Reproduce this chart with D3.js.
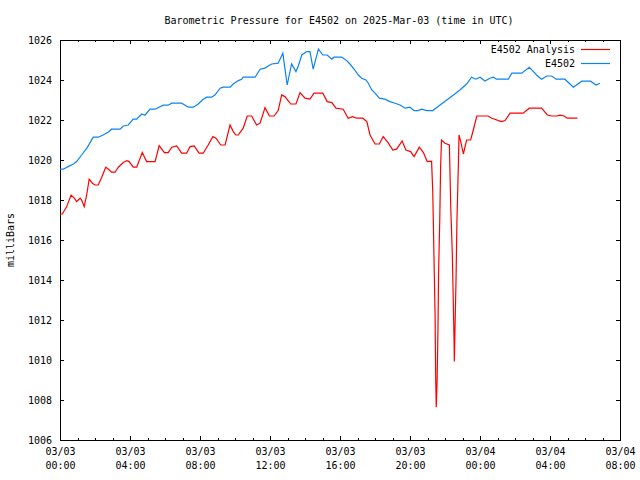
<!DOCTYPE html>
<html><head><meta charset="utf-8">
<script src="https://cdn.jsdelivr.net/npm/d3@7"></script>
<style>
body{margin:0;background:#fff}
svg text{font-family:"DejaVu Sans Mono","Liberation Mono",monospace;font-size:10px;fill:#000}
</style>
</head><body>
<svg id="chart" width="640" height="480"></svg>
<script>
const titleText = "Barometric Pressure for E4502 on 2025-Mar-03 (time in UTC)";
const yAxisLabel = "milliBars";
const seriesNames = ["E4502 Analysis", "E4502"];
const seriesColors = ["#ff0000", "#0a84f4"];

// minutes after 2025-03-03 00:00 UTC
const analysisMinutes = [0,8,23,38,49,57,69,74,83,92,100,111,120,131,143,157,166,177,189,200,217,229,237,251,263,282,297,326,340,358,371,383,400,417,434,446,460,477,491,508,524,535,551,566,583,594,603,611,628,642,657,674,686,703,718,734,748,760,771,791,809,823,840,857,871,901,916,932,946,971,988,1003,1017,1038,1052,1063,1080,1095,1108,1126,1141,1154,1173,1186,1202,1214,1232,1246,1259,1274,1278,1282,1286,1288,1290,1293,1296,1298,1302,1305,1308,1320,1335,1340,1345,1348,1351,1352,1354,1358,1361,1366,1368,1374,1383,1394,1408,1417,1429,1468,1480,1491,1503,1514,1526,1543,1588,1609,1651,1671,1686,1703,1714,1728,1739,1774];
const analysisValues = [1017.3,1017.3,1017.67,1018.25,1018.09,1017.92,1018.09,1018.0,1017.67,1018.3,1019.04,1018.84,1018.75,1018.75,1019.14,1019.64,1019.54,1019.39,1019.39,1019.64,1019.87,1019.97,1019.92,1019.64,1019.64,1020.37,1019.92,1019.92,1020.72,1020.37,1020.37,1020.64,1020.7,1020.34,1020.34,1020.67,1020.7,1020.34,1020.34,1020.75,1021.17,1021.09,1020.75,1020.75,1021.75,1021.42,1021.25,1021.25,1021.59,1022.2,1022.2,1021.75,1021.84,1022.62,1022.2,1022.2,1022.47,1023.25,1023.17,1022.8,1022.8,1023.37,1023.09,1023.04,1023.34,1023.34,1022.92,1022.87,1022.59,1022.54,1022.09,1022.17,1022.09,1022.09,1021.92,1021.25,1020.8,1020.8,1021.17,1020.84,1020.5,1020.54,1020.95,1020.5,1020.42,1020.17,1020.64,1020.37,1019.92,1019.94,1018.42,1015.34,1012.25,1009.17,1007.64,1009.0,1011.67,1014.34,1017.0,1019.67,1021.0,1020.84,1020.75,1017.5,1015.34,1013.17,1011.0,1009.92,1011.34,1014.17,1017.0,1019.84,1021.25,1020.92,1020.3,1021.0,1021.0,1021.5,1022.2,1022.2,1022.09,1022.04,1021.97,1021.92,1021.97,1022.34,1022.34,1022.59,1022.59,1022.25,1022.2,1022.2,1022.24,1022.2,1022.09,1022.09];

const obsMinutes = [0,11,28,46,57,74,92,103,114,131,148,166,177,206,217,234,251,263,280,291,309,326,354,371,383,417,429,440,457,474,491,503,520,531,549,560,583,594,611,623,628,669,686,703,714,726,748,764,771,779,786,794,809,817,829,846,857,868,886,901,916,932,939,966,983,994,1011,1023,1034,1049,1057,1069,1080,1095,1114,1131,1149,1166,1183,1200,1214,1228,1240,1257,1278,1303,1326,1349,1371,1394,1411,1426,1440,1457,1474,1486,1497,1537,1549,1583,1609,1634,1651,1669,1686,1701,1731,1760,1789,1819,1838,1851];
const obsValues = [1019.54,1019.54,1019.67,1019.8,1019.92,1020.25,1020.59,1020.87,1021.14,1021.14,1021.25,1021.4,1021.54,1021.54,1021.7,1021.75,1022.04,1022.04,1022.3,1022.24,1022.54,1022.54,1022.74,1022.74,1022.84,1022.84,1022.74,1022.64,1022.64,1022.8,1023.04,1023.14,1023.14,1023.25,1023.59,1023.64,1023.64,1023.8,1023.97,1024.04,1024.14,1024.14,1024.54,1024.59,1024.7,1024.8,1024.84,1025.34,1024.59,1023.75,1024.25,1024.8,1024.42,1024.7,1025.25,1025.42,1025.42,1024.54,1025.54,1025.25,1025.25,1025.04,1025.14,1025.14,1024.97,1024.8,1024.5,1024.25,1024.09,1024.0,1023.84,1023.5,1023.34,1023.09,1023.04,1022.92,1022.84,1022.75,1022.59,1022.64,1022.47,1022.47,1022.54,1022.47,1022.47,1022.75,1023.0,1023.25,1023.5,1023.8,1024.14,1024.04,1024.14,1023.95,1024.09,1024.14,1024.04,1024.04,1024.34,1024.34,1024.64,1024.25,1024.04,1024.2,1024.2,1024.04,1024.04,1023.64,1023.94,1023.94,1023.75,1023.84];

const yTickValues = [1006,1008,1010,1012,1014,1016,1018,1020,1022,1024,1026];
const xTickDates = ["03/03","03/03","03/03","03/03","03/03","03/03","03/04","03/04","03/04"];
const xTickTimes = ["00:00","04:00","08:00","12:00","16:00","20:00","00:00","04:00","08:00"];

const start = new Date(Date.UTC(2025, 2, 3, 0, 0));
const end = new Date(Date.UTC(2025, 2, 4, 8, 0));
const toDate = m => new Date(start.getTime() + m * 60000);

const svg = d3.select("#chart");
const L = 60, R = 620, T = 40, B = 440;
const x = d3.scaleUtc().domain([start, end]).range([L, R]);
const y = d3.scaleLinear().domain([1006, 1026]).range([B, T]);

const hourly = d3.utcHour.range(start, new Date(end.getTime() + 1));
const majors = hourly.filter(d => d.getUTCHours() % 4 === 0);
const minors = hourly.filter(d => d.getUTCHours() % 4 !== 0);

// bottom axis
const gb = svg.append("g").attr("transform", `translate(0,${B})`);
gb.append("g").call(d3.axisBottom(x).tickValues(minors).tickSize(-2).tickFormat(""));
const gbm = gb.append("g").call(d3.axisBottom(x).tickValues(majors).tickSize(-4).tickPadding(9)
  .tickFormat(() => ""));
gbm.selectAll(".tick text").each(function(d, i) {
  const t = d3.select(this);
  t.append("tspan").attr("x", 0).attr("dy", "0.71em").text(xTickDates[i]);
  t.append("tspan").attr("x", 0).attr("dy", "14px").text(xTickTimes[i]);
}).attr("dy", null).attr("y", 8);

// top axis
const gt = svg.append("g").attr("transform", `translate(0,${T})`);
gt.append("g").call(d3.axisTop(x).tickValues(minors).tickSize(-2).tickFormat(""));
gt.append("g").call(d3.axisTop(x).tickValues(majors).tickSize(-4).tickFormat(""));

// left / right axes
svg.append("g").attr("transform", `translate(${L},0)`)
  .call(d3.axisLeft(y).tickValues(yTickValues).tickSize(-4).tickPadding(8).tickFormat(d3.format("d")));
svg.append("g").attr("transform", `translate(${R},0)`)
  .call(d3.axisRight(y).tickValues(yTickValues).tickSize(-4).tickFormat(""));

svg.selectAll(".domain").remove();
svg.selectAll(".tick line").attr("stroke", "#000").attr("shape-rendering", "crispEdges");
svg.selectAll("g").attr("font-family", null).attr("font-size", null);

// frame
svg.append("rect").attr("x", L).attr("y", T).attr("width", R - L).attr("height", B - T)
  .attr("fill", "none").attr("stroke", "#000").attr("shape-rendering", "crispEdges");

// lines
const line = d3.line().x(d => x(d[0])).y(d => y(d[1]));
const analysis = analysisMinutes.map((m, i) => [toDate(m), analysisValues[i]]);
const obs = obsMinutes.map((m, i) => [toDate(m), obsValues[i]]);
svg.append("path").datum(analysis).attr("d", line).attr("fill", "none")
  .style("stroke", seriesColors[0]).attr("stroke-width", 1.2);
svg.append("path").datum(obs).attr("d", line).attr("fill", "none")
  .style("stroke", seriesColors[1]).attr("stroke-width", 1.2);

// title and y label
svg.append("text").attr("x", 339).attr("y", 20).attr("text-anchor", "middle")
  .attr("dominant-baseline", "central").text(titleText);
svg.append("text").attr("transform", "translate(10,240) rotate(-90)")
  .attr("text-anchor", "middle").attr("dominant-baseline", "central").text(yAxisLabel);

// legend
const legendY = [49.5, 63.5];
seriesNames.forEach((name, i) => {
  svg.append("text").attr("x", 575).attr("y", legendY[i]).attr("text-anchor", "end")
    .attr("dominant-baseline", "central").text(name);
  svg.append("path").attr("d", `M581,${legendY[i]}H610`)
    .style("stroke", seriesColors[i]).style("stroke-width", "1.2px").style("fill", "none");
});
</script>
</body></html>
